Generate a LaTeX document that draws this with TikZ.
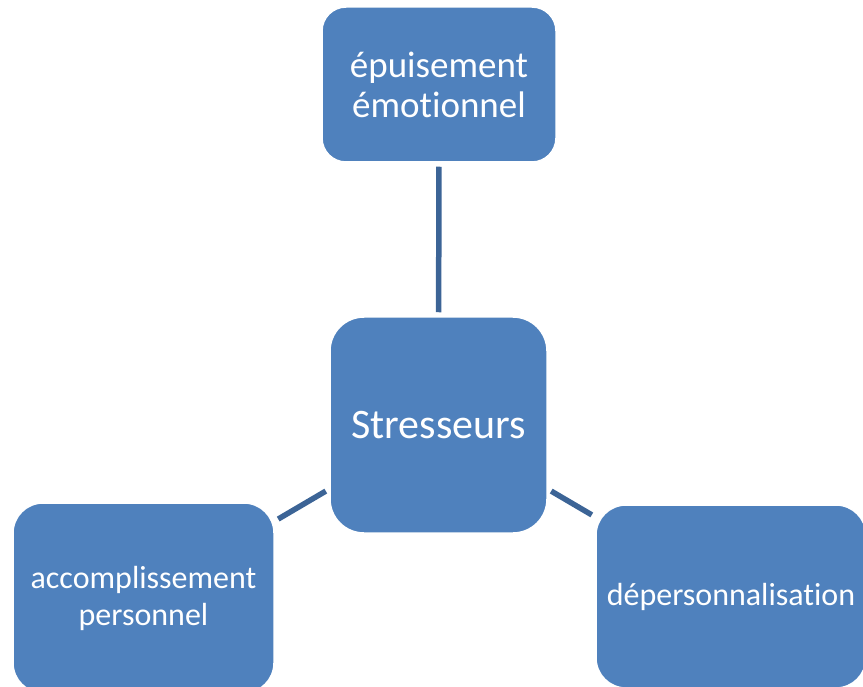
\documentclass[tikz,border=0pt]{standalone}
\usepackage{fontspec}
\setmainfont{Carlito}[Ligatures=NoCommon]
\definecolor{boxblue}{RGB}{79,129,189}
\definecolor{linkblue}{RGB}{60,100,150}
\begin{document}
\begin{tikzpicture}[x=1pt,y=-1pt,
  box/.style={fill=boxblue, draw=white, line width=1.5pt, text=white, align=center, inner sep=0pt},
  link/.style={draw=linkblue, line width=5.5pt, shorten <=4pt, shorten >=4pt}]
\useasboundingbox (0,0) rectangle (863,687);
\clip (0,0) rectangle (863,687);
\node[box, minimum width=234pt, minimum height=155pt, rounded corners=24pt,
      font=\fontsize{37}{40}\selectfont] (top) at (439,84.5) {épuisement\\émotionnel};
\node[box, minimum width=217pt, minimum height=216pt, rounded corners=34pt,
      font=\fontsize{42}{46}\selectfont] (center) at (438.5,425) {Stresseurs};
\node[box, minimum width=261pt, minimum height=190pt, rounded corners=30pt,
      font=\fontsize{32}{37}\selectfont] (bl) at (143.5,598) {accomplissement\\personnel};
\node[box, minimum width=270pt, minimum height=183pt, rounded corners=30pt,
      font=\fontsize{32}{36}\selectfont] (br) at (731,596.5) {dépersonnalisation};
\draw[link] (top) -- (center);
\draw[link] (center) -- (bl);
\draw[link] (center) -- (br);
\end{tikzpicture}
\end{document}
